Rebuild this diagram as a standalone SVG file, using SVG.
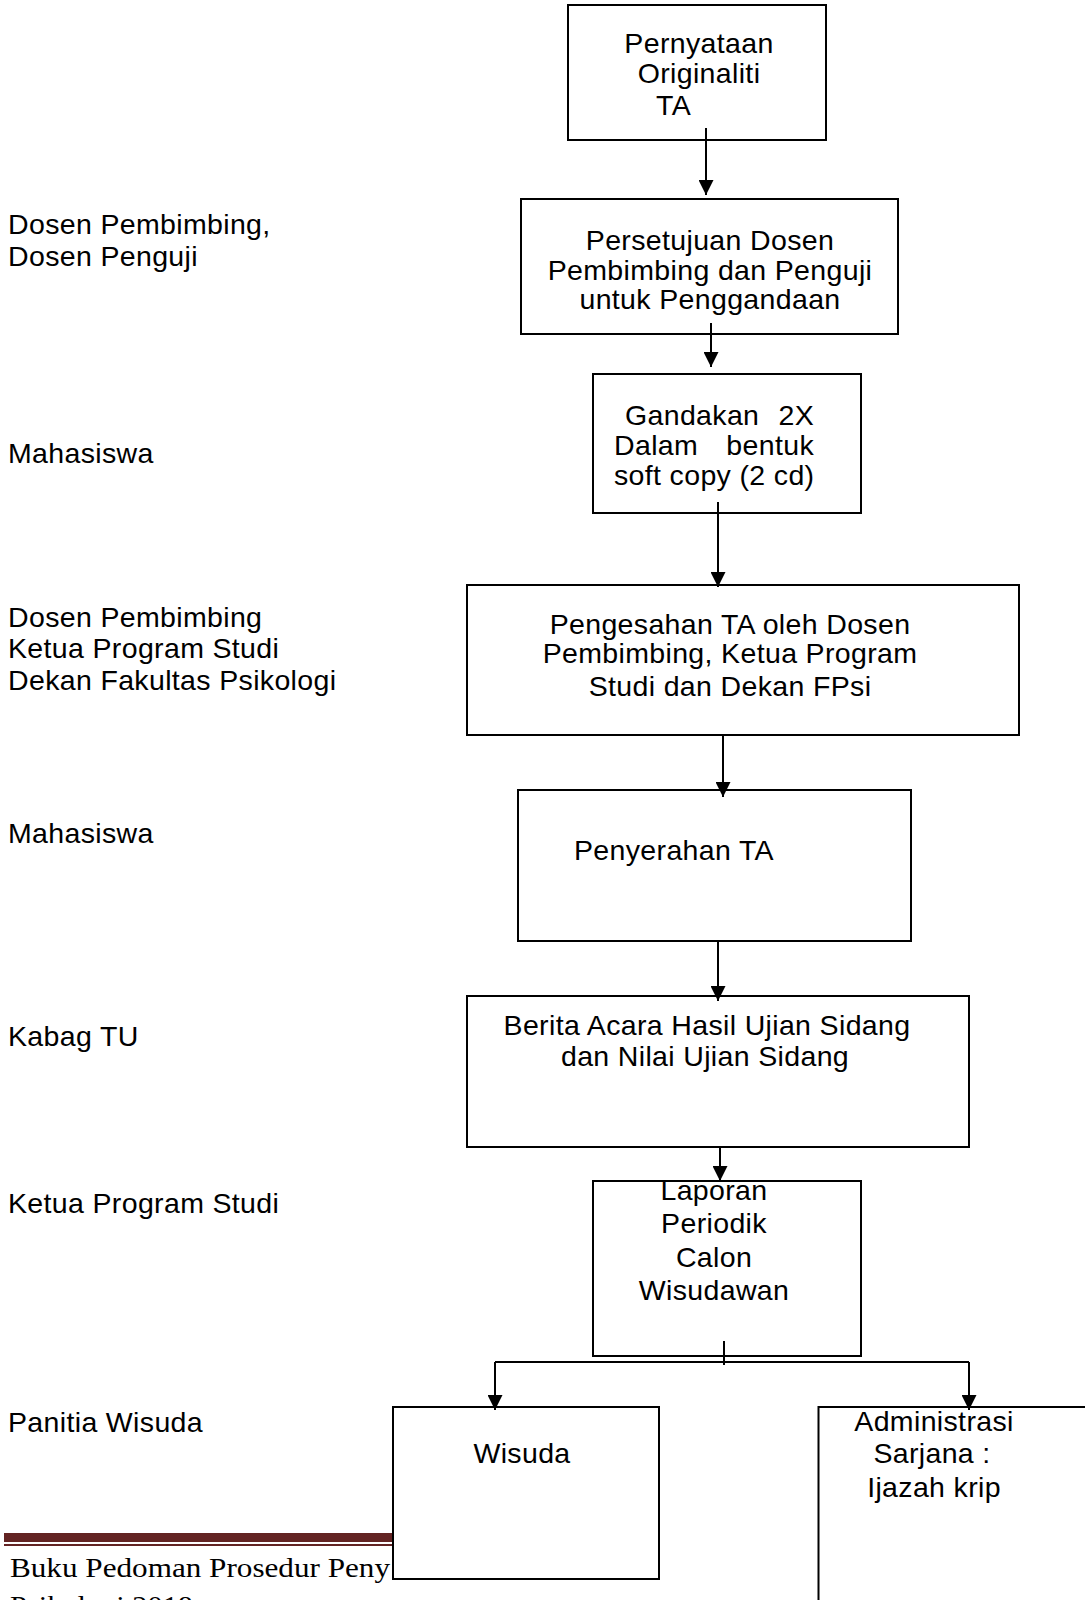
<svg xmlns="http://www.w3.org/2000/svg" width="1085" height="1600" viewBox="0 0 1085 1600">
<defs>
<style>
.box{fill:#fff;stroke:#000;stroke-width:2}
.t{font-family:"Liberation Sans",Arial,sans-serif;font-size:28.5px;letter-spacing:0.35px;fill:#000}
.c{text-anchor:middle}
.e{text-anchor:end}
.conn{stroke:#000;stroke-width:2;fill:none}
.ft{font-family:"Liberation Serif","Times New Roman",serif;font-size:28px;fill:#000}
.bar{fill:#632423}
</style>
<marker id="ah" viewBox="0 0 15 15" markerWidth="15" markerHeight="15" refX="15" refY="7.5" orient="auto" markerUnits="userSpaceOnUse">
<path d="M0,0 L15,7.5 L0,15 z" fill="#000"/>
</marker>
</defs>
<rect width="1085" height="1600" fill="#fff"/>

<g id="footer">
<rect class="bar" x="4" y="1533" width="395" height="9"/>
<rect class="bar" x="4" y="1544" width="395" height="2"/>
<text class="ft" x="10" y="1577" textLength="380" lengthAdjust="spacingAndGlyphs">Buku Pedoman Prosedur Peny</text>
<text class="ft" x="10" y="1615" textLength="183" lengthAdjust="spacingAndGlyphs">Psikologi 2018</text>
</g>

<g id="lanes">
<text class="t" x="8" y="234">Dosen Pembimbing,</text>
<text class="t" x="8" y="266">Dosen Penguji</text>
<text class="t" x="8" y="463">Mahasiswa</text>
<text class="t" x="8" y="627">Dosen Pembimbing</text>
<text class="t" x="8" y="658">Ketua Program Studi</text>
<text class="t" x="8" y="690">Dekan Fakultas Psikologi</text>
<text class="t" x="8" y="843">Mahasiswa</text>
<text class="t" x="8" y="1046">Kabag TU</text>
<text class="t" x="8" y="1213">Ketua Program Studi</text>
<text class="t" x="8" y="1432">Panitia Wisuda</text>
</g>

<g id="n1">
<rect class="box" x="568" y="5" width="258" height="135"/>
<text class="t c" x="699" y="53">Pernyataan</text>
<text class="t c" x="699" y="83">Originaliti</text>
<text class="t" x="656" y="115">TA</text>
</g>

<g id="n2">
<rect class="box" x="521" y="199" width="377" height="135"/>
<text class="t c" x="710" y="250">Persetujuan Dosen</text>
<text class="t c" x="710" y="280">Pembimbing dan Penguji</text>
<text class="t c" x="710" y="309">untuk Penggandaan</text>
</g>

<g id="n3">
<rect class="box" x="593" y="374" width="268" height="139"/>
<text class="t" y="425"><tspan x="625">Gandakan</tspan><tspan class="e" x="814"> 2X</tspan></text>
<text class="t" y="455"><tspan x="614">Dalam</tspan><tspan class="e" x="814"> bentuk</tspan></text>
<text class="t" x="614" y="485">soft copy (2 cd)</text>
</g>

<g id="n4">
<rect class="box" x="467" y="585" width="552" height="150"/>
<text class="t c" x="730" y="634">Pengesahan TA oleh Dosen</text>
<text class="t c" x="730" y="663">Pembimbing, Ketua Program</text>
<text class="t c" x="730" y="696">Studi dan Dekan FPsi</text>
</g>

<g id="n5">
<rect class="box" x="518" y="790" width="393" height="151"/>
<text class="t" x="574" y="860">Penyerahan TA</text>
</g>

<g id="n6">
<rect class="box" x="467" y="996" width="502" height="151"/>
<text class="t c" x="707" y="1035">Berita Acara Hasil Ujian Sidang</text>
<text class="t c" x="705" y="1066">dan Nilai Ujian Sidang</text>
</g>

<g id="n7">
<rect class="box" x="593" y="1181" width="268" height="175"/>
<text class="t c" x="714" y="1200">Laporan</text>
<text class="t c" x="714" y="1233">Periodik</text>
<text class="t c" x="714" y="1267">Calon</text>
<text class="t c" x="714" y="1300">Wisudawan</text>
</g>

<g id="n8">
<rect class="box" x="393" y="1407" width="266" height="172"/>
<text class="t c" x="522" y="1463">Wisuda</text>
</g>

<g id="n9">
<rect class="box" x="818.5" y="1407" width="290" height="220"/>
<text class="t c" x="934" y="1431">Administrasi</text>
<text class="t c" x="932" y="1463">Sarjana :</text>
<text class="t c" x="934" y="1497">Ijazah krip</text>
</g>

<g id="connectors">
<path class="conn" d="M706,128 V195" marker-end="url(#ah)"/>
<path class="conn" d="M711,323 V367" marker-end="url(#ah)"/>
<path class="conn" d="M718,502 V587" marker-end="url(#ah)"/>
<path class="conn" d="M723,735 V797" marker-end="url(#ah)"/>
<path class="conn" d="M718,941 V1001" marker-end="url(#ah)"/>
<path class="conn" d="M720,1147 V1181" marker-end="url(#ah)"/>
<path class="conn" d="M724,1341 V1365"/>
<path class="conn" d="M495,1362 H969"/>
<path class="conn" d="M495,1362 V1410" marker-end="url(#ah)"/>
<path class="conn" d="M969,1362 V1410" marker-end="url(#ah)"/>
</g>
</svg>
